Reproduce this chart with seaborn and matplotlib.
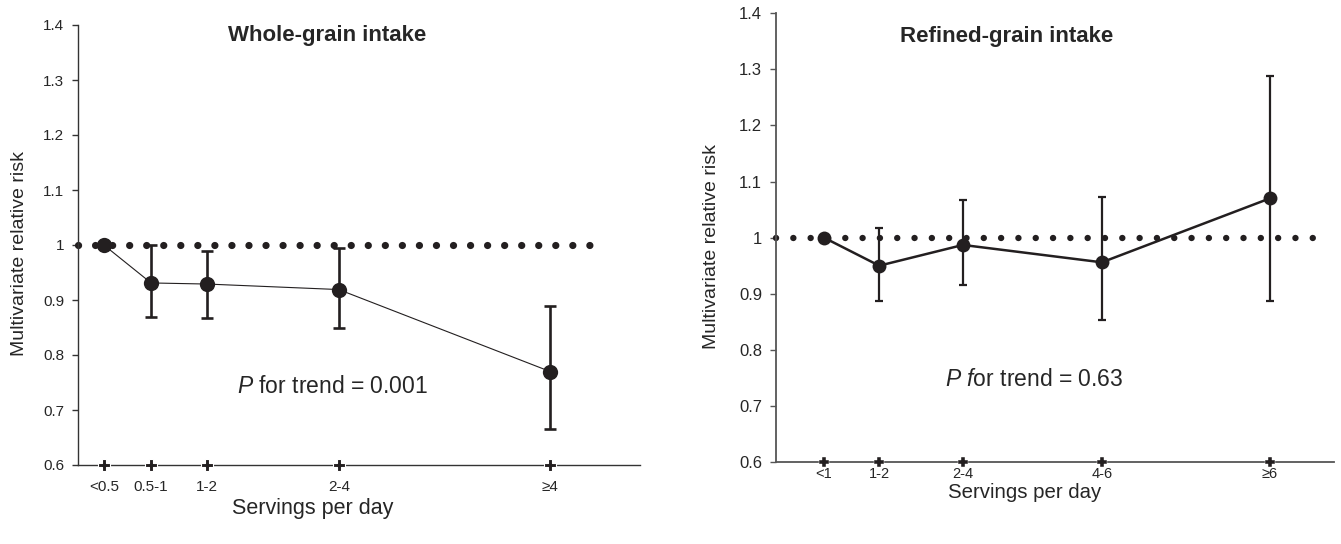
import matplotlib
matplotlib.use("Agg")
import matplotlib.pyplot as plt
import seaborn as sns
import numpy as np

# whole-grain panel
wg_labels = ["<0.5", "0.5-1", "1-2", "2-4", "\u22654"]
wg_pos = [0.46, 1.30, 2.30, 4.64, 8.40]
wg_rr = [1.0, 0.931, 0.929, 0.919, 0.77]
wg_lo = [np.nan, 0.87, 0.867, 0.849, 0.665]
wg_hi = [np.nan, 1.0, 0.99, 0.994, 0.89]

# refined-grain panel
rg_labels = ["<1", "1-2", "2-4", "4-6", "\u22656"]
rg_pos = [0.86, 1.85, 3.35, 5.84, 8.85]
rg_rr = [1.0, 0.95, 0.987, 0.956, 1.07]
rg_lo = [np.nan, 0.887, 0.915, 0.853, 0.887]
rg_hi = [np.nan, 1.017, 1.067, 1.072, 1.288]

y_ticks = [0.6, 0.7, 0.8, 0.9, 1.0, 1.1, 1.2, 1.3, 1.4]
y_ticklabels = ["0.6", "0.7", "0.8", "0.9", "1", "1.1", "1.2", "1.3", "1.4"]

sns.set_style("ticks")
plt.rcParams["font.family"] = ["Liberation Sans", "DejaVu Sans"]
plt.rcParams["mathtext.fontset"] = "custom"
plt.rcParams["mathtext.rm"] = "Liberation Sans"
plt.rcParams["mathtext.it"] = "Liberation Sans:italic"

ink = "#231f20"
W, H = 1341, 544
fig = plt.figure(figsize=(W / 100, H / 100), dpi=100)


def panel(rect, pos, rr, lo, hi, labels, ref_end, title, ptxt, st):
    ax = fig.add_axes(rect)
    ax.set_xlim(0, 10)
    ax.set_ylim(0.6, 1.4)
    # reference line at RR = 1
    ax.plot([0, ref_end], [1, 1], color=ink, lw=st["dot"],
            linestyle=(0, (0.01, st["gap"])), dash_capstyle="round",
            clip_on=False, zorder=2)
    rr = np.array(rr)
    err = [rr - np.array(lo), np.array(hi) - rr]
    ax.errorbar(pos, rr, yerr=err, fmt="none", ecolor=ink,
                elinewidth=st["elw"], capsize=st["cap"], capthick=st["elw"],
                zorder=3)
    sns.lineplot(x=pos, y=rr, ax=ax, color=ink, lw=st["lw"], marker="o",
                 markersize=st["ms"], markeredgewidth=0, zorder=4)
    # "+" ticks on the x axis
    ax.scatter(pos, [0.6] * len(pos), marker="P", s=st["plus"], color=ink,
               edgecolors="white", linewidths=st["plw"], clip_on=False,
               zorder=5)
    ax.set_xticks(pos)
    ax.set_xticklabels(labels, fontsize=st["xtfs"])
    ax.tick_params(axis="x", length=0, pad=st["xpad"])
    ax.set_yticks(y_ticks)
    ax.set_yticklabels(y_ticklabels, fontsize=st["yfs"])
    ax.tick_params(axis="y", length=4.5, width=1, direction="out", pad=5.5,
                   color=st["spine"])
    for s in ["top", "right"]:
        ax.spines[s].set_visible(False)
    for s in ["left", "bottom"]:
        ax.spines[s].set_color(st["spine"])
        ax.spines[s].set_linewidth(st["slw"])
    ax.set_ylabel("Multivariate relative risk", fontsize=14)
    ax.yaxis.set_label_coords(st["ylx"], 0.48)
    ax.set_xlabel("Servings per day", fontsize=st["xfs"], va="top")
    ax.xaxis.set_label_coords(st["xlx"], st["xly"])
    ax.text(st["tx"], st["ty"], title, transform=ax.transAxes, ha="center",
            va="center", fontsize=16, fontweight="bold")
    ax.text(st["px"], st["py"], ptxt, transform=ax.transAxes, ha="left",
            va="baseline", fontsize=16.5)
    return ax


panel([78 / W, 1 - 465 / H, 562 / W, 440 / H], wg_pos, wg_rr, wg_lo, wg_hi,
      wg_labels, 9.32, "Whole-grain intake", r"$\mathit{P}$ for trend = 0.001",
      dict(dot=5.2, gap=2.35, elw=1.9, cap=4.2, lw=0.8, ms=11, plus=80,
           plw=0.8, xtfs=11, xpad=10.5, yfs=11, spine="#333333", slw=1.0,
           ylx=-0.089, xfs=15.5, xlx=0.418, xly=-0.076, tx=0.443, ty=0.975,
           px=0.283, py=0.164))

panel([776 / W, 1 - 462 / H, 558 / W, 448.7 / H], rg_pos, rg_rr, rg_lo, rg_hi,
      rg_labels, 9.71, "Refined-grain intake", r"$\mathit{P\ f}$or trend = 0.63",
      dict(dot=4.6, gap=2.7, elw=1.6, cap=3, lw=1.8, ms=10, plus=45,
           plw=0.3, xtfs=10.5, xpad=3.5, yfs=12, spine="#555555", slw=1.3,
           ylx=-0.100, xfs=14.7, xlx=0.446, xly=-0.046, tx=0.414, ty=0.949,
           px=0.303, py=0.169))

fig.savefig("out.png", dpi=100)
